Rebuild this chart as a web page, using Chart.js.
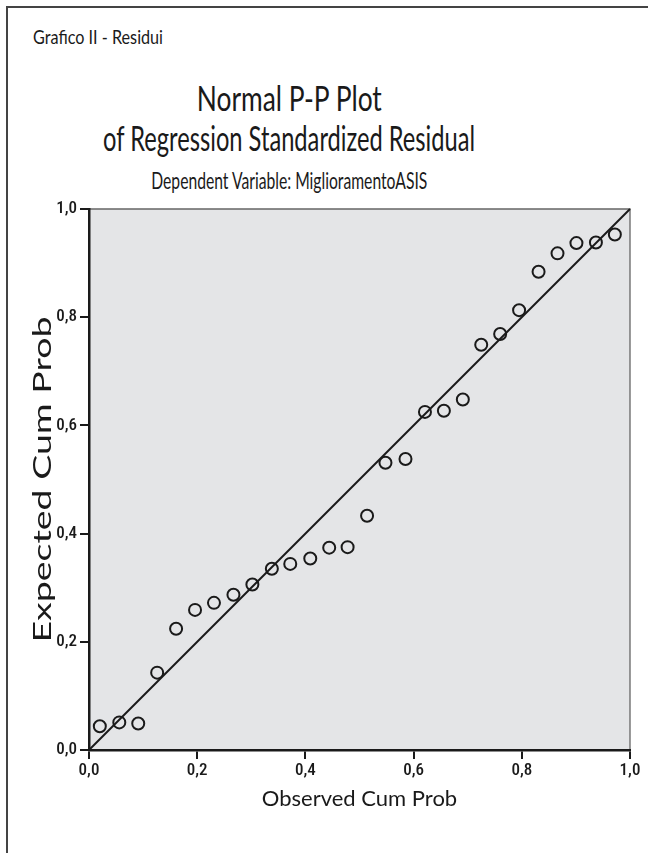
<!DOCTYPE html>
<html>
<head>
<meta charset="utf-8">
<script src="https://cdn.jsdelivr.net/npm/chart.js@4/dist/chart.umd.min.js"></script>
<style>
  body { margin: 0; background: #fff; }
  #wrap { position: relative; width: 648px; height: 853px; overflow: hidden; background: #fff; }
  #frame { position: absolute; left: 6px; top: 6px; right: -4px; bottom: -4px;
           border-top: 2px solid #444; border-left: 2px solid #444; }
  .txt { position: absolute; white-space: nowrap; font-family: Lato, "Open Sans", sans-serif; color: #1a1a1a; }
  #caption { left: 33px; top: 24px; font-size: 20px; transform-origin: left center; }
  #t1, #t2, #t3 { left: 0; width: 578px; text-align: center; }
  #t1 { top: 77px; font-size: 34px; }
  #t2 { top: 117px; font-size: 34px; }
  #t3 { top: 165px; font-size: 24px; }
  canvas { position: absolute; left: 0; top: 0; }
</style>
</head>
<body>
<div id="wrap">
  <div id="frame"></div>
  <div class="txt" id="caption" data-w="130">Grafico II - Residui</div>
  <div class="txt" id="t1"><span data-w="185">Normal P-P Plot</span></div>
  <div class="txt" id="t2"><span data-w="372">of Regression Standardized Residual</span></div>
  <div class="txt" id="t3"><span data-w="276">Dependent Variable: MiglioramentoASIS</span></div>
  <canvas id="chart" width="648" height="853"></canvas>
</div>
<script>
// observed cumulative probability (x) and expected cumulative probability (y)
const observedCum = [0.020, 0.056, 0.091, 0.126, 0.161, 0.196, 0.231, 0.267, 0.302, 0.338,
                     0.372, 0.409, 0.444, 0.478, 0.514, 0.548, 0.585, 0.621, 0.656, 0.691,
                     0.725, 0.760, 0.795, 0.831, 0.866, 0.901, 0.937, 0.972];
const expectedCum = [0.044, 0.051, 0.049, 0.143, 0.224, 0.259, 0.272, 0.287, 0.306, 0.335,
                     0.344, 0.354, 0.374, 0.375, 0.433, 0.531, 0.538, 0.625, 0.627, 0.648,
                     0.749, 0.769, 0.813, 0.884, 0.918, 0.937, 0.938, 0.953];
const refLineX = [0, 1];
const refLineY = [0, 1];
const tickValues = [0, 0.2, 0.4, 0.6, 0.8, 1.0];

// squeeze the heading texts to the widths they have in the picture
document.querySelectorAll('[data-w]').forEach(el => {
    el.style.display = 'inline-block';
    const w = el.getBoundingClientRect().width;
    if (el.id !== 'caption') el.style.transformOrigin = 'center center';
    el.style.transform = `scaleX(${el.dataset.w / w})`;
});

const fmt = v => v.toFixed(1).replace('.', ',');
const tickFont = { family: '"Liberation Sans Narrow", "Roboto Condensed", Roboto, sans-serif', size: 17, weight: '500' };

const plotFrame = {
    id: 'plotFrame',
    beforeDraw(chart) {
        const { ctx, chartArea: a } = chart;
        ctx.save();
        ctx.fillStyle = '#e4e5e7';
        ctx.fillRect(a.left, a.top, a.right - a.left, a.bottom - a.top);
        ctx.strokeStyle = '#666';
        ctx.lineWidth = 1.3;
        ctx.beginPath();
        ctx.moveTo(a.left, a.top);
        ctx.lineTo(a.right, a.top);
        ctx.lineTo(a.right, a.bottom);
        ctx.stroke();
        ctx.restore();
    },
    afterLayout(chart) {
        // the y title is drawn stretched along its length, as in the picture
        const s = chart.scales.y;
        if (s._stretched) return;
        s._stretched = true;
        const base = s.drawTitle;
        s.drawTitle = function () {
            const ctx = this.ctx;
            const cy = (this.top + this.bottom) / 2;
            ctx.save();
            ctx.translate(0, cy);
            ctx.scale(1, 1.5);
            ctx.translate(0, -cy);
            base.apply(this, arguments);
            ctx.restore();
        };
    }
};

new Chart(document.getElementById('chart'), {
    type: 'scatter',
    data: {
        datasets: [
            {
                type: 'line',
                data: refLineX.map((x, i) => ({ x, y: refLineY[i] })),
                borderColor: '#1a1a1a',
                borderWidth: 2,
                pointRadius: 0,
                fill: false
            },
            {
                data: observedCum.map((x, i) => ({ x, y: expectedCum[i] })),
                pointStyle: 'circle',
                pointRadius: 6,
                pointBorderWidth: 2,
                pointBorderColor: '#1a1a1a',
                pointBackgroundColor: 'rgba(0,0,0,0)',
                showLine: false
            }
        ]
    },
    options: {
        responsive: false,
        animation: false,
        clip: false,
        layout: { padding: { top: 209, left: 0, right: 18, bottom: 41 } },
        plugins: { legend: { display: false }, tooltip: { enabled: false } },
        scales: {
            x: {
                type: 'linear', min: 0, max: 1,
                afterBuildTicks: s => { s.ticks = tickValues.map(value => ({ value })); },
                afterFit: s => { s.height = 62; },
                grid: { drawOnChartArea: false, drawTicks: true, tickLength: 9, color: '#1a1a1a', lineWidth: 2 },
                border: { display: true, color: '#1a1a1a', width: 2.5 },
                ticks: { callback: fmt, font: tickFont, color: '#1a1a1a', padding: 2, maxRotation: 0 },
                title: { display: true, text: 'Observed Cum Prob', color: '#1a1a1a',
                         font: { family: 'Lato, sans-serif', size: 22 }, padding: { top: 0, bottom: 0 } }
            },
            y: {
                type: 'linear', min: 0, max: 1,
                afterBuildTicks: s => { s.ticks = tickValues.map(value => ({ value })); },
                afterFit: s => { s.width = 89; },
                grid: { drawOnChartArea: false, drawTicks: true, tickLength: 9, color: '#1a1a1a', lineWidth: 2 },
                border: { display: true, color: '#1a1a1a', width: 2.5 },
                ticks: { callback: fmt, font: tickFont, color: '#1a1a1a', padding: 3 },
                title: { display: true, text: 'Expected Cum Prob', color: '#1a1a1a',
                         font: { family: 'Lato, sans-serif', size: 25 }, padding: { top: 28, bottom: 0 } }
            }
        }
    },
    plugins: [plotFrame]
});
</script>
</body>
</html>
